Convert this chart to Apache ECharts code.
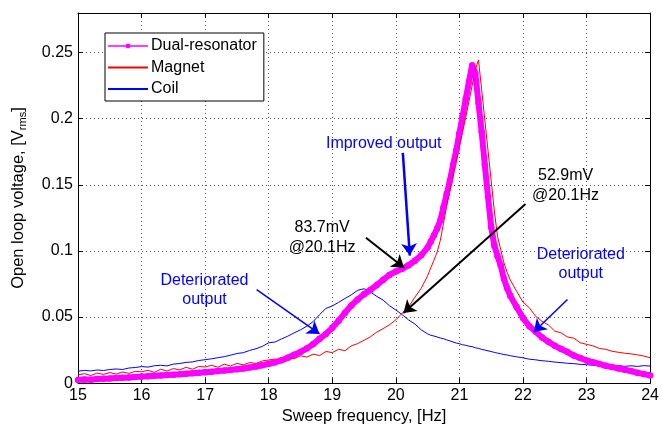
<!DOCTYPE html>
<html>
<head>
<meta charset="utf-8">
<script src="https://cdn.jsdelivr.net/npm/echarts@6/dist/echarts.min.js"></script>
<style>html,body{margin:0;padding:0;background:#fff;}#chart{width:662px;height:430px;}</style>
</head>
<body>
<div id="chart"></div>
<script>
const freq = [
  15.0,15.1,15.2,15.3,15.4,15.5,15.6,15.7,15.8,15.9,
  16.0,16.1,16.2,16.3,16.4,16.5,16.6,16.7,16.8,16.9,
  17.0,17.1,17.2,17.3,17.4,17.5,17.6,17.7,17.8,17.9,
  18.0,18.1,18.2,18.3,18.4,18.5,18.6,18.7,18.8,18.9,
  19.0,19.1,19.2,19.3,19.4,19.5,19.6,19.7,19.8,19.9,
  20.0,20.1,20.2,20.3,20.4,20.5,
  20.55,20.6,20.65,20.7,20.75,20.8,20.85,20.9,20.95,21.0,21.05,21.1,21.15,21.2,21.25,21.3,21.35,21.4,21.45,21.5,21.55,21.6,21.65,21.7,21.75,21.8,
  21.9,22.0,22.1,22.2,22.3,22.4,22.5,22.6,22.7,22.8,22.9,23.0,23.1,23.2,23.3,23.4,23.5,23.6,23.7,23.8,23.9,24.0
];
const dualResonator = [
  0.0024,0.0028,0.0026,0.0031,0.0033,0.0035,0.0038,0.0041,0.0043,0.0046,
  0.0049,0.0052,0.0055,0.0058,0.0061,0.0064,0.0067,0.0071,0.0075,0.0078,
  0.0082,0.0086,0.0091,0.0095,0.0100,0.0105,0.0111,0.0118,0.0126,0.0135,
  0.0146,0.0158,0.0172,0.0192,0.0214,0.0236,0.0262,0.0295,0.0335,0.0372,
  0.0418,0.0472,0.0532,0.0588,0.0632,0.0672,0.0705,0.0742,0.0781,0.0818,
  0.0845,0.0865,0.0892,0.0925,0.0968,0.1025,
  0.1072,0.1118,0.1170,0.1230,0.1330,0.1430,0.1530,0.1650,0.1760,0.1890,0.2020,0.2150,0.2280,0.2405,0.2345,0.2120,0.1900,0.1650,0.1410,0.1180,0.1040,0.0960,0.0890,0.0790,0.0720,0.0660,
  0.0575,0.0492,0.0430,0.0388,0.0345,0.0312,0.0282,0.0258,0.0235,0.0208,0.0190,0.0171,0.0158,0.0145,0.0131,0.0121,0.0111,0.0101,0.0091,0.0078,0.0068,0.0058
];
const magnet = [
  0.0062,0.0072,0.0057,0.0076,0.0066,0.0080,0.0068,0.0084,0.0073,0.0089,
  0.0085,0.0097,0.0081,0.0105,0.0091,0.0110,0.0100,0.0119,0.0105,0.0126,
  0.0122,0.0135,0.0120,0.0143,0.0130,0.0149,0.0138,0.0156,0.0148,0.0168,
  0.0175,0.0182,0.0171,0.0193,0.0184,0.0206,0.0197,0.0219,0.0208,0.0239,
  0.0231,0.0256,0.0245,0.0282,0.0299,0.0324,0.0350,0.0386,0.0412,0.0441,
  0.0479,0.0529,0.0577,0.0650,0.0718,0.0812,
  0.0872,0.0930,0.0992,0.1080,0.1210,0.1340,0.1460,0.1570,0.1680,0.1790,0.1900,0.2010,0.2130,0.2250,0.2370,0.2445,0.2220,0.1990,0.1760,0.1530,0.1300,0.1110,0.1010,0.0910,0.0840,0.0780,
  0.0695,0.0612,0.0570,0.0505,0.0467,0.0440,0.0393,0.0380,0.0349,0.0340,0.0305,0.0293,0.0282,0.0262,0.0256,0.0241,0.0233,0.0226,0.0221,0.0214,0.0205,0.0192
];
const coil = [
  0.0090,0.0096,0.0092,0.0099,0.0095,0.0103,0.0107,0.0103,0.0114,0.0118,
  0.0125,0.0121,0.0131,0.0135,0.0130,0.0144,0.0148,0.0157,0.0160,0.0171,
  0.0177,0.0184,0.0192,0.0200,0.0211,0.0224,0.0230,0.0247,0.0260,0.0278,
  0.0305,0.0311,0.0334,0.0355,0.0380,0.0403,0.0430,0.0466,0.0518,0.0565,
  0.0584,0.0611,0.0640,0.0668,0.0702,0.0714,0.0690,0.0656,0.0628,0.0585,
  0.0553,0.0518,0.0478,0.0447,0.0402,0.0372,
  0.0362,0.0356,0.0349,0.0341,0.0336,0.0327,0.0319,0.0311,0.0303,0.0298,0.0290,0.0286,0.0279,0.0276,0.0267,0.0263,0.0255,0.0250,0.0244,0.0239,0.0232,0.0227,0.0222,0.0216,0.0213,0.0207,
  0.0199,0.0191,0.0181,0.0176,0.0169,0.0165,0.0159,0.0155,0.0150,0.0147,0.0142,0.0139,0.0135,0.0133,0.0131,0.0128,0.0133,0.0127,0.0131,0.0126,0.0132,0.0129
];
const seriesNames = ['Dual-resonator', 'Magnet', 'Coil'];
const xTicks = {min: 15, max: 24, step: 1};
const yTicks = {min: 0, max: 0.28, step: 0.05};

// annotations (data coordinates)
const annotationTexts = [
  {text: 'Improved output', at: [19.81, 0.181], color: '#0000ff'},
  {text: '83.7mV\n@20.1Hz', at: [18.84, 0.110], color: '#000000'},
  {text: '52.9mV\n@20.1Hz', at: [22.67, 0.1495], color: '#000000'},
  {text: 'Deteriorated\noutput', at: [16.99, 0.0705], color: '#0000ff'},
  {text: 'Deteriorated\noutput', at: [22.91, 0.0900], color: '#0000ff'}
];
const annotationArrows = [
  {from: [20.11, 0.1742], to: [20.22, 0.0965], color: '#0000ff', width: 2.5},
  {from: [19.53, 0.110], to: [20.13, 0.0872], color: '#000000', width: 2},
  {from: [22.04, 0.1355], to: [20.12, 0.0531], color: '#000000', width: 2},
  {from: [17.81, 0.0707], to: [18.80, 0.0372], color: '#0000ff', width: 1.5},
  {from: [22.70, 0.0633], to: [22.17, 0.0387], color: '#0000ff', width: 1.5}
];

const FONT = 'Liberation Sans, Arial, Helvetica, sans-serif';
const pairs = arr => freq.map((f, i) => [f, arr[i]]);

const chart = echarts.init(document.getElementById('chart'), null, {renderer: 'canvas'});

const gridLine = {show: true, lineStyle: {color: '#555', width: 1, type: [1, 3]}};
const axisLineBlack = {show: true, onZero: false, lineStyle: {color: '#000', width: 1}};
const tickIn = {show: true, inside: true, length: 5, lineStyle: {color: '#000'}};

const option = {
  animation: false,
  backgroundColor: '#fff',
  textStyle: {fontFamily: FONT},
  grid: {left: 78, right: 10, top: 13, bottom: 41, containLabel: false},
  legend: {
    data: [
      {name: 'Dual-resonator', lineStyle: {width: 1.5}},
      {name: 'Magnet', itemStyle: {opacity: 0}},
      {name: 'Coil', itemStyle: {opacity: 0}}
    ],
    orient: 'vertical',
    left: 105, top: 33,
    itemWidth: 40, itemHeight: 6, itemGap: 5.5,
    padding: [5, 7, 4, 2],
    backgroundColor: '#fff',
    borderColor: '#000', borderWidth: 1,
    textStyle: {fontFamily: FONT, fontSize: 16, color: '#000', padding: [0, 0, 0, -2]}
  },
  xAxis: [
    {
      type: 'value', position: 'bottom', min: xTicks.min, max: xTicks.max, interval: xTicks.step,
      name: 'Sweep frequency, [Hz]', nameLocation: 'middle', nameGap: 20,
      nameTextStyle: {fontFamily: FONT, fontSize: 16.5, color: '#000'},
      axisLine: axisLineBlack, axisTick: tickIn,
      axisLabel: {fontFamily: FONT, fontSize: 16, color: '#000', margin: 4},
      splitLine: gridLine
    },
    {
      type: 'value', position: 'top', min: xTicks.min, max: xTicks.max, interval: xTicks.step,
      axisLine: axisLineBlack, axisTick: tickIn, axisLabel: {show: false}, splitLine: {show: false}
    }
  ],
  yAxis: [
    {
      type: 'value', position: 'left', min: yTicks.min, max: yTicks.max, interval: yTicks.step,
      name: 'Open loop voltage, [V{sub|rms}]', nameLocation: 'middle', nameGap: 50, nameRotate: 90,
      nameTextStyle: {fontFamily: FONT, fontSize: 16.5, color: '#000',
        rich: {sub: {fontFamily: FONT, fontSize: 11, color: '#000', verticalAlign: 'bottom', padding: [9, 0, 0, 0]}}},
      axisLine: axisLineBlack, axisTick: tickIn,
      axisLabel: {fontFamily: FONT, fontSize: 16, color: '#000', margin: 5, showMaxLabel: false},
      splitLine: gridLine
    },
    {
      type: 'value', position: 'right', min: yTicks.min, max: yTicks.max, interval: yTicks.step,
      axisLine: axisLineBlack, axisTick: tickIn, axisLabel: {show: false}, splitLine: {show: false}
    }
  ],
  series: [
    {
      name: seriesNames[2], type: 'line', data: pairs(coil),
      symbol: 'none', lineStyle: {color: '#0000ff', width: 1}, itemStyle: {color: '#0000ff'}
    },
    {
      name: seriesNames[0], type: 'line', data: pairs(dualResonator),
      symbol: 'circle', symbolSize: 6.5, showSymbol: true,
      lineStyle: {color: '#ff00ff', width: 6}, itemStyle: {color: '#ff00ff'}
    },
    {
      name: seriesNames[1], type: 'line', data: pairs(magnet),
      symbol: 'none', lineStyle: {color: '#ff0000', width: 1}, itemStyle: {color: '#ff0000'},
      markLine: {
        silent: true, animation: false,
        symbol: ['none', 'arrow'], symbolSize: 12,
        label: {show: false},
        data: annotationArrows.map(a => [
          {coord: a.from, lineStyle: {color: a.color, width: a.width, type: 'solid'}},
          {coord: a.to, lineStyle: {color: a.color, width: a.width, type: 'solid'}}
        ])
      },
      markPoint: {
        silent: true, animation: false,
        data: annotationTexts.map(t => ({
          coord: t.at, symbol: 'circle', symbolSize: 1,
          itemStyle: {color: 'rgba(0,0,0,0)'},
          label: {show: true, position: 'inside', formatter: t.text, color: t.color,
            fontFamily: FONT, fontSize: 16, lineHeight: 19.5, align: 'center'}
        }))
      }
    }
  ]
};
chart.setOption(option);
</script>
</body>
</html>
